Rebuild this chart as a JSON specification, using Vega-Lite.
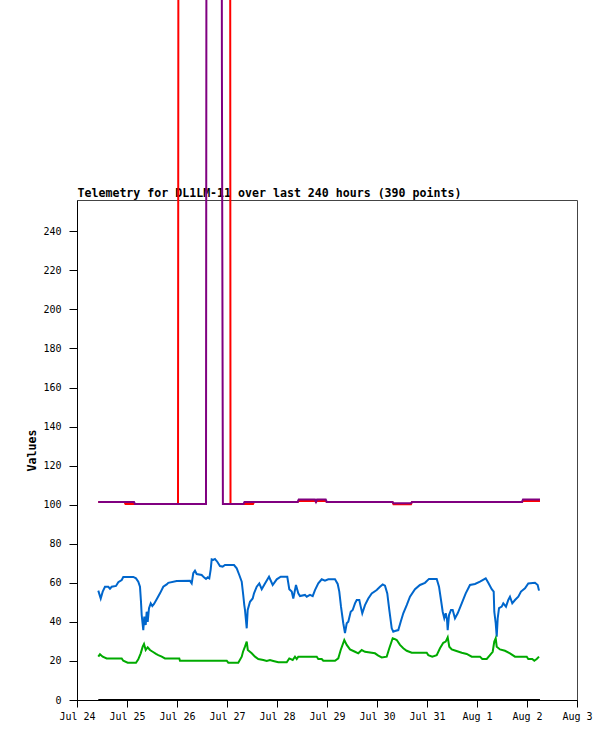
{
  "$schema": "https://vega.github.io/schema/vega-lite/v6.json",
  "autosize": "none",
  "width": 500,
  "height": 500,
  "padding": {"left": 77, "top": 200, "right": 38, "bottom": 41},
  "background": "white",
  "config": {
    "view": {"stroke": "#444444", "strokeWidth": 1},
    "axis": {
      "labelFont": "DejaVu Sans Mono",
      "labelFontSize": 10,
      "labelColor": "black",
      "domainColor": "black",
      "tickColor": "black",
      "grid": false,
      "titleFont": "DejaVu Sans Mono",
      "titleFontSize": 11.6,
      "titleFontWeight": "bold",
      "titleColor": "black"
    }
  },
  "data": {"values": [
    {"s":"red","t":"2024-07-24T10:13","v":101.4},
    {"s":"red","t":"2024-07-24T22:48","v":101.4},
    {"s":"red","t":"2024-07-24T23:17","v":100.4},
    {"s":"red","t":"2024-07-26T00:29","v":100.4},
    {"s":"red","t":"2024-07-26T01:03","v":1000},
    {"s":"red","t":"2024-07-27T01:12","v":1000},
    {"s":"red","t":"2024-07-27T01:41","v":100.4},
    {"s":"red","t":"2024-07-27T12:29","v":100.4},
    {"s":"red","t":"2024-07-27T12:58","v":101.4},
    {"s":"red","t":"2024-07-28T09:56","v":101.4},
    {"s":"red","t":"2024-07-28T10:25","v":101.9},
    {"s":"red","t":"2024-07-28T18:14","v":101.9},
    {"s":"red","t":"2024-07-28T18:43","v":101.4},
    {"s":"red","t":"2024-07-28T19:12","v":101.9},
    {"s":"red","t":"2024-07-28T23:23","v":101.9},
    {"s":"red","t":"2024-07-28T23:52","v":101.4},
    {"s":"red","t":"2024-07-30T07:26","v":101.4},
    {"s":"red","t":"2024-07-30T07:55","v":100.2},
    {"s":"red","t":"2024-07-30T16:19","v":100.2},
    {"s":"red","t":"2024-07-30T16:48","v":101.4},
    {"s":"red","t":"2024-08-01T21:36","v":101.4},
    {"s":"red","t":"2024-08-01T22:05","v":101.9},
    {"s":"red","t":"2024-08-02T06:14","v":101.9},

    {"s":"purple","t":"2024-07-24T10:13","v":101.4},
    {"s":"purple","t":"2024-07-25T03:22","v":101.4},
    {"s":"purple","t":"2024-07-25T03:50","v":100.4},
    {"s":"purple","t":"2024-07-26T13:55","v":100.4},
    {"s":"purple","t":"2024-07-26T14:30","v":900},
    {"s":"purple","t":"2024-07-26T21:01","v":900},
    {"s":"purple","t":"2024-07-26T21:33","v":326},
    {"s":"purple","t":"2024-07-26T22:02","v":100.4},
    {"s":"purple","t":"2024-07-27T07:55","v":100.4},
    {"s":"purple","t":"2024-07-27T08:24","v":101.4},
    {"s":"purple","t":"2024-07-28T09:56","v":101.4},
    {"s":"purple","t":"2024-07-28T10:25","v":102.6},
    {"s":"purple","t":"2024-07-28T18:14","v":102.6},
    {"s":"purple","t":"2024-07-28T18:43","v":101.4},
    {"s":"purple","t":"2024-07-28T19:12","v":102.6},
    {"s":"purple","t":"2024-07-28T23:23","v":102.6},
    {"s":"purple","t":"2024-07-28T23:52","v":101.4},
    {"s":"purple","t":"2024-07-30T07:26","v":101.4},
    {"s":"purple","t":"2024-07-30T07:55","v":100.8},
    {"s":"purple","t":"2024-07-30T16:19","v":100.8},
    {"s":"purple","t":"2024-07-30T16:48","v":101.4},
    {"s":"purple","t":"2024-08-01T21:36","v":101.4},
    {"s":"purple","t":"2024-08-01T22:05","v":102.6},
    {"s":"purple","t":"2024-08-02T06:14","v":102.6},

    {"s":"blue","t":"2024-07-24T10:13","v":56},
    {"s":"blue","t":"2024-07-24T11:23","v":52},
    {"s":"blue","t":"2024-07-24T12:20","v":55.5},
    {"s":"blue","t":"2024-07-24T13:26","v":58},
    {"s":"blue","t":"2024-07-24T15:01","v":58},
    {"s":"blue","t":"2024-07-24T15:50","v":57},
    {"s":"blue","t":"2024-07-24T16:39","v":58},
    {"s":"blue","t":"2024-07-24T18:43","v":58.4},
    {"s":"blue","t":"2024-07-24T19:49","v":60.3},
    {"s":"blue","t":"2024-07-24T21:27","v":61.4},
    {"s":"blue","t":"2024-07-24T22:13","v":63},
    {"s":"blue","t":"2024-07-25T03:01","v":63},
    {"s":"blue","t":"2024-07-25T04:19","v":62.3},
    {"s":"blue","t":"2024-07-25T05:25","v":60.6},
    {"s":"blue","t":"2024-07-25T06:14","v":58},
    {"s":"blue","t":"2024-07-25T06:43","v":50.3},
    {"s":"blue","t":"2024-07-25T07:03","v":43.5},
    {"s":"blue","t":"2024-07-25T07:49","v":35.8},
    {"s":"blue","t":"2024-07-25T08:18","v":42.7},
    {"s":"blue","t":"2024-07-25T08:59","v":38.4},
    {"s":"blue","t":"2024-07-25T09:27","v":45.2},
    {"s":"blue","t":"2024-07-25T09:56","v":40},
    {"s":"blue","t":"2024-07-25T10:34","v":47},
    {"s":"blue","t":"2024-07-25T11:23","v":49.5},
    {"s":"blue","t":"2024-07-25T12:09","v":48.1},
    {"s":"blue","t":"2024-07-25T12:58","v":49.2},
    {"s":"blue","t":"2024-07-25T14:15","v":51.6},
    {"s":"blue","t":"2024-07-25T15:50","v":54.6},
    {"s":"blue","t":"2024-07-25T17:25","v":58},
    {"s":"blue","t":"2024-07-25T19:03","v":59.2},
    {"s":"blue","t":"2024-07-25T19:49","v":60},
    {"s":"blue","t":"2024-07-25T23:51","v":60.9},
    {"s":"blue","t":"2024-07-26T06:14","v":61},
    {"s":"blue","t":"2024-07-26T07:03","v":59.7},
    {"s":"blue","t":"2024-07-26T07:49","v":64.9},
    {"s":"blue","t":"2024-07-26T08:38","v":66.2},
    {"s":"blue","t":"2024-07-26T09:27","v":64.5},
    {"s":"blue","t":"2024-07-26T11:51","v":64},
    {"s":"blue","t":"2024-07-26T12:57","v":62.8},
    {"s":"blue","t":"2024-07-26T13:55","v":62},
    {"s":"blue","t":"2024-07-26T14:44","v":62.8},
    {"s":"blue","t":"2024-07-26T15:30","v":62.3},
    {"s":"blue","t":"2024-07-26T16:11","v":66.9},
    {"s":"blue","t":"2024-07-26T16:39","v":72},
    {"s":"blue","t":"2024-07-26T17:25","v":71.7},
    {"s":"blue","t":"2024-07-26T18:14","v":72.2},
    {"s":"blue","t":"2024-07-26T19:20","v":70.8},
    {"s":"blue","t":"2024-07-26T20:38","v":68.6},
    {"s":"blue","t":"2024-07-26T21:56","v":68.3},
    {"s":"blue","t":"2024-07-26T23:02","v":69.1},
    {"s":"blue","t":"2024-07-27T03:22","v":69.1},
    {"s":"blue","t":"2024-07-27T04:40","v":67.4},
    {"s":"blue","t":"2024-07-27T05:54","v":64},
    {"s":"blue","t":"2024-07-27T07:04","v":60.6},
    {"s":"blue","t":"2024-07-27T07:49","v":53.5},
    {"s":"blue","t":"2024-07-27T08:18","v":48.6},
    {"s":"blue","t":"2024-07-27T08:38","v":46.1},
    {"s":"blue","t":"2024-07-27T09:28","v":36.7},
    {"s":"blue","t":"2024-07-27T09:56","v":46.1},
    {"s":"blue","t":"2024-07-27T11:02","v":50.3},
    {"s":"blue","t":"2024-07-27T12:20","v":52},
    {"s":"blue","t":"2024-07-27T12:58","v":54.6},
    {"s":"blue","t":"2024-07-27T14:16","v":58},
    {"s":"blue","t":"2024-07-27T15:30","v":59.7},
    {"s":"blue","t":"2024-07-27T16:40","v":56.7},
    {"s":"blue","t":"2024-07-27T18:14","v":59.7},
    {"s":"blue","t":"2024-07-27T20:10","v":63.1},
    {"s":"blue","t":"2024-07-27T21:56","v":58.9},
    {"s":"blue","t":"2024-07-27T23:52","v":61.8},
    {"s":"blue","t":"2024-07-28T01:47","v":63.1},
    {"s":"blue","t":"2024-07-28T04:56","v":63.1},
    {"s":"blue","t":"2024-07-28T05:54","v":56.7},
    {"s":"blue","t":"2024-07-28T07:04","v":55.5},
    {"s":"blue","t":"2024-07-28T07:49","v":52},
    {"s":"blue","t":"2024-07-28T09:07","v":58.9},
    {"s":"blue","t":"2024-07-28T10:13","v":54.6},
    {"s":"blue","t":"2024-07-28T11:02","v":53.2},
    {"s":"blue","t":"2024-07-28T13:26","v":53.8},
    {"s":"blue","t":"2024-07-28T14:16","v":52.9},
    {"s":"blue","t":"2024-07-28T15:50","v":53.8},
    {"s":"blue","t":"2024-07-28T17:08","v":53.2},
    {"s":"blue","t":"2024-07-28T18:14","v":56.3},
    {"s":"blue","t":"2024-07-28T19:49","v":59.7},
    {"s":"blue","t":"2024-07-28T21:28","v":61.8},
    {"s":"blue","t":"2024-07-28T23:02","v":61.1},
    {"s":"blue","t":"2024-07-29T00:37","v":61.8},
    {"s":"blue","t":"2024-07-29T03:50","v":61.8},
    {"s":"blue","t":"2024-07-29T05:08","v":59.4},
    {"s":"blue","t":"2024-07-29T05:54","v":55.5},
    {"s":"blue","t":"2024-07-29T06:43","v":47.8},
    {"s":"blue","t":"2024-07-29T07:49","v":39.3},
    {"s":"blue","t":"2024-07-29T08:38","v":34.2},
    {"s":"blue","t":"2024-07-29T09:28","v":39.3},
    {"s":"blue","t":"2024-07-29T10:13","v":40.1},
    {"s":"blue","t":"2024-07-29T11:23","v":45.2},
    {"s":"blue","t":"2024-07-29T12:20","v":46.1},
    {"s":"blue","t":"2024-07-29T13:26","v":49.5},
    {"s":"blue","t":"2024-07-29T14:16","v":51.2},
    {"s":"blue","t":"2024-07-29T15:30","v":51.2},
    {"s":"blue","t":"2024-07-29T16:11","v":47.8},
    {"s":"blue","t":"2024-07-29T16:56","v":44.4},
    {"s":"blue","t":"2024-07-29T18:14","v":48.6},
    {"s":"blue","t":"2024-07-29T19:49","v":52},
    {"s":"blue","t":"2024-07-29T21:28","v":54.6},
    {"s":"blue","t":"2024-07-29T23:52","v":56.3},
    {"s":"blue","t":"2024-07-30T01:26","v":58},
    {"s":"blue","t":"2024-07-30T02:44","v":59.2},
    {"s":"blue","t":"2024-07-30T03:50","v":58.5},
    {"s":"blue","t":"2024-07-30T04:56","v":54.6},
    {"s":"blue","t":"2024-07-30T05:54","v":46.1},
    {"s":"blue","t":"2024-07-30T07:04","v":36.7},
    {"s":"blue","t":"2024-07-30T07:49","v":35},
    {"s":"blue","t":"2024-07-30T08:38","v":35.3},
    {"s":"blue","t":"2024-07-30T10:13","v":35.8},
    {"s":"blue","t":"2024-07-30T11:23","v":40.1},
    {"s":"blue","t":"2024-07-30T12:37","v":44.4},
    {"s":"blue","t":"2024-07-30T14:16","v":48.6},
    {"s":"blue","t":"2024-07-30T15:50","v":52.9},
    {"s":"blue","t":"2024-07-30T18:14","v":56.7},
    {"s":"blue","t":"2024-07-30T20:38","v":58.9},
    {"s":"blue","t":"2024-07-30T23:02","v":60},
    {"s":"blue","t":"2024-07-31T00:58","v":62},
    {"s":"blue","t":"2024-07-31T04:40","v":62},
    {"s":"blue","t":"2024-07-31T05:46","v":58},
    {"s":"blue","t":"2024-07-31T06:43","v":51.2},
    {"s":"blue","t":"2024-07-31T07:32","v":45.2},
    {"s":"blue","t":"2024-07-31T08:18","v":41.8},
    {"s":"blue","t":"2024-07-31T08:59","v":44.4},
    {"s":"blue","t":"2024-07-31T09:36","v":41.3},
    {"s":"blue","t":"2024-07-31T09:56","v":35.8},
    {"s":"blue","t":"2024-07-31T10:34","v":43.5},
    {"s":"blue","t":"2024-07-31T11:31","v":46.1},
    {"s":"blue","t":"2024-07-31T12:20","v":46.1},
    {"s":"blue","t":"2024-07-31T13:26","v":41.8},
    {"s":"blue","t":"2024-07-31T14:44","v":44.4},
    {"s":"blue","t":"2024-07-31T16:40","v":49.5},
    {"s":"blue","t":"2024-07-31T18:35","v":54.6},
    {"s":"blue","t":"2024-07-31T20:38","v":58.9},
    {"s":"blue","t":"2024-07-31T23:02","v":59.4},
    {"s":"blue","t":"2024-08-01T01:26","v":60.6},
    {"s":"blue","t":"2024-08-01T04:11","v":62.3},
    {"s":"blue","t":"2024-08-01T05:25","v":60},
    {"s":"blue","t":"2024-08-01T07:04","v":56.7},
    {"s":"blue","t":"2024-08-01T08:01","v":55.5},
    {"s":"blue","t":"2024-08-01T08:18","v":45.2},
    {"s":"blue","t":"2024-08-01T08:59","v":39.3},
    {"s":"blue","t":"2024-08-01T09:28","v":32.4},
    {"s":"blue","t":"2024-08-01T09:56","v":41.8},
    {"s":"blue","t":"2024-08-01T10:34","v":47},
    {"s":"blue","t":"2024-08-01T11:52","v":47.8},
    {"s":"blue","t":"2024-08-01T12:37","v":49.5},
    {"s":"blue","t":"2024-08-01T13:55","v":47.8},
    {"s":"blue","t":"2024-08-01T15:01","v":51.2},
    {"s":"blue","t":"2024-08-01T15:50","v":52.9},
    {"s":"blue","t":"2024-08-01T16:56","v":49.5},
    {"s":"blue","t":"2024-08-01T18:14","v":51.2},
    {"s":"blue","t":"2024-08-01T19:49","v":52.9},
    {"s":"blue","t":"2024-08-01T21:07","v":55.5},
    {"s":"blue","t":"2024-08-01T23:02","v":57.2},
    {"s":"blue","t":"2024-08-02T00:37","v":59.7},
    {"s":"blue","t":"2024-08-02T03:50","v":60},
    {"s":"blue","t":"2024-08-02T05:08","v":58.9},
    {"s":"blue","t":"2024-08-02T05:46","v":56},

    {"s":"green","t":"2024-07-24T10:13","v":22.2},
    {"s":"green","t":"2024-07-24T11:02","v":23.4},
    {"s":"green","t":"2024-07-24T12:20","v":22.2},
    {"s":"green","t":"2024-07-24T14:15","v":21.3},
    {"s":"green","t":"2024-07-24T21:27","v":21.3},
    {"s":"green","t":"2024-07-24T22:13","v":20.1},
    {"s":"green","t":"2024-07-25T00:20","v":19.1},
    {"s":"green","t":"2024-07-25T04:19","v":19.1},
    {"s":"green","t":"2024-07-25T05:25","v":20.8},
    {"s":"green","t":"2024-07-25T06:35","v":23.9},
    {"s":"green","t":"2024-07-25T07:32","v":27.3},
    {"s":"green","t":"2024-07-25T08:10","v":28.7},
    {"s":"green","t":"2024-07-25T08:59","v":25.6},
    {"s":"green","t":"2024-07-25T09:56","v":27},
    {"s":"green","t":"2024-07-25T11:02","v":25.6},
    {"s":"green","t":"2024-07-25T12:20","v":24.7},
    {"s":"green","t":"2024-07-25T13:55","v":23.6},
    {"s":"green","t":"2024-07-25T15:01","v":23},
    {"s":"green","t":"2024-07-25T16:40","v":22.2},
    {"s":"green","t":"2024-07-25T18:14","v":21.3},
    {"s":"green","t":"2024-07-26T01:06","v":21.3},
    {"s":"green","t":"2024-07-26T01:26","v":20.1},
    {"s":"green","t":"2024-07-26T23:52","v":20.1},
    {"s":"green","t":"2024-07-27T00:37","v":19.1},
    {"s":"green","t":"2024-07-27T05:25","v":19.1},
    {"s":"green","t":"2024-07-27T07:04","v":22.2},
    {"s":"green","t":"2024-07-27T07:41","v":24.7},
    {"s":"green","t":"2024-07-27T08:38","v":27.3},
    {"s":"green","t":"2024-07-27T09:28","v":29.9},
    {"s":"green","t":"2024-07-27T09:59","v":25.6},
    {"s":"green","t":"2024-07-27T11:52","v":23.9},
    {"s":"green","t":"2024-07-27T13:26","v":22.2},
    {"s":"green","t":"2024-07-27T15:01","v":21},
    {"s":"green","t":"2024-07-27T17:25","v":20.5},
    {"s":"green","t":"2024-07-27T19:04","v":20},
    {"s":"green","t":"2024-07-27T20:38","v":20.5},
    {"s":"green","t":"2024-07-27T22:13","v":20},
    {"s":"green","t":"2024-07-28T00:37","v":19.3},
    {"s":"green","t":"2024-07-28T04:40","v":19.3},
    {"s":"green","t":"2024-07-28T05:54","v":21.3},
    {"s":"green","t":"2024-07-28T07:32","v":20.5},
    {"s":"green","t":"2024-07-28T08:38","v":22.2},
    {"s":"green","t":"2024-07-28T09:28","v":21},
    {"s":"green","t":"2024-07-28T10:13","v":22.2},
    {"s":"green","t":"2024-07-28T19:04","v":22.2},
    {"s":"green","t":"2024-07-28T19:49","v":21},
    {"s":"green","t":"2024-07-28T21:28","v":21},
    {"s":"green","t":"2024-07-28T22:13","v":20.1},
    {"s":"green","t":"2024-07-29T03:50","v":20.1},
    {"s":"green","t":"2024-07-29T05:25","v":21.3},
    {"s":"green","t":"2024-07-29T06:35","v":25.6},
    {"s":"green","t":"2024-07-29T08:18","v":30.7},
    {"s":"green","t":"2024-07-29T09:28","v":28.2},
    {"s":"green","t":"2024-07-29T11:02","v":25.9},
    {"s":"green","t":"2024-07-29T13:26","v":24.7},
    {"s":"green","t":"2024-07-29T15:01","v":23.9},
    {"s":"green","t":"2024-07-29T16:40","v":25.6},
    {"s":"green","t":"2024-07-29T18:14","v":24.7},
    {"s":"green","t":"2024-07-29T23:02","v":23.9},
    {"s":"green","t":"2024-07-30T00:37","v":22.7},
    {"s":"green","t":"2024-07-30T02:16","v":21.8},
    {"s":"green","t":"2024-07-30T04:40","v":22.2},
    {"s":"green","t":"2024-07-30T05:54","v":26.5},
    {"s":"green","t":"2024-07-30T07:32","v":31.6},
    {"s":"green","t":"2024-07-30T08:38","v":31.2},
    {"s":"green","t":"2024-07-30T09:28","v":30.7},
    {"s":"green","t":"2024-07-30T11:02","v":28.2},
    {"s":"green","t":"2024-07-30T12:37","v":26.5},
    {"s":"green","t":"2024-07-30T14:16","v":25.2},
    {"s":"green","t":"2024-07-30T16:40","v":24.2},
    {"s":"green","t":"2024-07-30T23:52","v":24.2},
    {"s":"green","t":"2024-07-31T00:37","v":23},
    {"s":"green","t":"2024-07-31T02:32","v":22.2},
    {"s":"green","t":"2024-07-31T04:40","v":23},
    {"s":"green","t":"2024-07-31T06:14","v":26.5},
    {"s":"green","t":"2024-07-31T07:49","v":29.3},
    {"s":"green","t":"2024-07-31T08:59","v":29.9},
    {"s":"green","t":"2024-07-31T09:56","v":32.1},
    {"s":"green","t":"2024-07-31T10:42","v":27.3},
    {"s":"green","t":"2024-07-31T11:52","v":25.9},
    {"s":"green","t":"2024-07-31T13:47","v":25.2},
    {"s":"green","t":"2024-07-31T16:40","v":24.2},
    {"s":"green","t":"2024-07-31T19:04","v":23.6},
    {"s":"green","t":"2024-07-31T21:28","v":22.2},
    {"s":"green","t":"2024-08-01T01:26","v":22.2},
    {"s":"green","t":"2024-08-01T02:32","v":21},
    {"s":"green","t":"2024-08-01T04:40","v":21},
    {"s":"green","t":"2024-08-01T06:14","v":23},
    {"s":"green","t":"2024-08-01T07:32","v":24.7},
    {"s":"green","t":"2024-08-01T08:18","v":29.9},
    {"s":"green","t":"2024-08-01T08:59","v":31.6},
    {"s":"green","t":"2024-08-01T09:28","v":27.3},
    {"s":"green","t":"2024-08-01T11:02","v":25.9},
    {"s":"green","t":"2024-08-01T13:26","v":25.2},
    {"s":"green","t":"2024-08-01T15:50","v":23.9},
    {"s":"green","t":"2024-08-01T18:14","v":22.2},
    {"s":"green","t":"2024-08-01T23:52","v":22.2},
    {"s":"green","t":"2024-08-02T00:37","v":21},
    {"s":"green","t":"2024-08-02T02:32","v":21},
    {"s":"green","t":"2024-08-02T03:30","v":20.1},
    {"s":"green","t":"2024-08-02T04:40","v":21},
    {"s":"green","t":"2024-08-02T05:46","v":22.2},

    {"s":"black","t":"2024-07-24T10:13","v":0},
    {"s":"black","t":"2024-07-28T00:00","v":0},
    {"s":"black","t":"2024-08-02T06:14","v":0}
  ]},
  "encoding": {
    "y": {
      "field": "v",
      "type": "quantitative",
      "scale": {"domain": [0, 256], "nice": false, "zero": true},
      "axis": {
        "title": "Values",
        "values": [0, 20, 40, 60, 80, 100, 120, 140, 160, 180, 200, 220, 240],
        "tickSize": 8,
        "labelPadding": 8,
        "titlePadding": 5
      }
    },
    "color": {
      "field": "s",
      "type": "nominal",
      "scale": {
        "domain": ["red", "purple", "blue", "green", "black"],
        "range": ["#ff0000", "#800080", "#0066cc", "#00aa00", "#000000"]
      },
      "legend": null
    }
  },
  "layer": [
    {
      "transform": [{"filter": {"not": {"field": "s", "equal": "black"}}}],
      "mark": {"type": "line", "strokeWidth": 2, "interpolate": "linear"},
      "encoding": {
        "x": {
          "field": "t",
          "type": "temporal",
          "scale": {
            "type": "time",
            "domain": [
              {"year": 2024, "month": 7, "date": 24},
              {"year": 2024, "month": 8, "date": 3}
            ],
            "nice": false
          },
          "axis": {
            "orient": "bottom",
            "title": null,
            "format": "%b %-d",
            "tickCount": {"interval": "day", "step": 1},
            "tickSize": 7,
            "labelPadding": 4,
            "labelFlush": false,
            "labelOverlap": false
          }
        }
      }
    },
    {
      "transform": [{"filter": {"field": "s", "equal": "black"}}],
      "mark": {"type": "line", "strokeWidth": 2, "interpolate": "linear"},
      "encoding": {
        "x": {
          "field": "t",
          "type": "temporal",
          "axis": {
            "orient": "top",
            "title": "Telemetry for DL1LM-11 over last 240 hours (390 points)",
            "titleAnchor": "start",
            "titleAlign": "left",
            "titleBaseline": "alphabetic",
            "titlePadding": 4,
            "domain": false,
            "ticks": false,
            "labels": false
          }
        }
      }
    }
  ],
  "resolve": {"axis": {"x": "independent"}}
}
